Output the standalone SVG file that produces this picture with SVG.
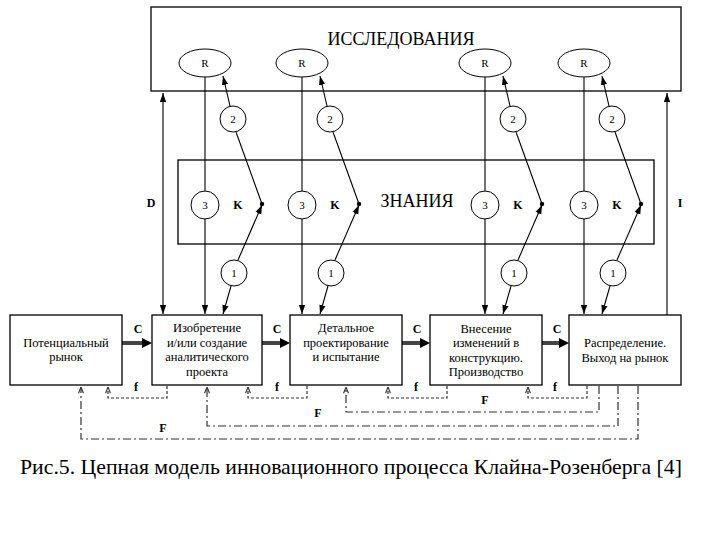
<svg xmlns="http://www.w3.org/2000/svg" width="720" height="540" viewBox="0 0 720 540">
<defs>
<marker id="ah" viewBox="0 0 10 10" refX="10" refY="5" markerWidth="9" markerHeight="9" markerUnits="userSpaceOnUse" orient="auto"><path d="M0,1.5 L10,5 L0,8.5 z" fill="#000"/></marker>
<marker id="oh" viewBox="0 0 10 10" refX="10" refY="5" markerWidth="7" markerHeight="7" markerUnits="userSpaceOnUse" orient="auto"><path d="M1,1.5 L10,5 L1,8.5" fill="none" stroke="#333" stroke-width="1.6"/></marker>
<style>
.bx{fill:#fff;stroke:#000;stroke-width:1.3}
.cr{fill:#fff;stroke:#000;stroke-width:1}
.ln{fill:none;stroke:#000;stroke-width:1.1}
text{font-family:'Liberation Serif','DejaVu Serif','Times New Roman',serif;fill:#000}
.t{text-anchor:middle}
.bt{font-size:12.5px}
.sm{font-size:11px}
.big{font-size:18px}
.k{font-size:12px;font-weight:bold}
.fd{fill:none;stroke:#333;stroke-width:1.2;stroke-dasharray:3,2}
.Fd{fill:none;stroke:#333;stroke-width:1.2;stroke-dasharray:8,3,2,3}
.ca{stroke:#444;stroke-width:4}
</style>
</defs>
<rect width="720" height="540" fill="#fff"/>

<g id="research">
<rect class="bx" x="151" y="7" width="530" height="84"/>
<text class="t big" x="401" y="45" font-family="Liberation Serif, DejaVu Serif, serif">ИССЛЕДОВАНИЯ</text>
</g>
<g id="knowledge">
<rect class="bx" x="178" y="160" width="476" height="84" fill="none"/>
<text class="t big" x="417" y="207" font-family="Liberation Serif, DejaVu Serif, serif">ЗНАНИЯ</text>
</g>

<g id="connectors">
<line class="ln" x1="163" y1="200" x2="163" y2="93" marker-end="url(#ah)"/>
<line class="ln" x1="163" y1="200" x2="163" y2="314" marker-end="url(#ah)"/>
<line class="ln" x1="667" y1="315" x2="667" y2="93" marker-end="url(#ah)"/>
<line class="ln" x1="205" y1="77" x2="205" y2="314" marker-end="url(#ah)"/>
<line class="ln" x1="302" y1="77" x2="302" y2="314" marker-end="url(#ah)"/>
<line class="ln" x1="485" y1="77" x2="485" y2="314" marker-end="url(#ah)"/>
<line class="ln" x1="584" y1="77" x2="584" y2="314" marker-end="url(#ah)"/>
<line class="ln" x1="230" y1="106" x2="223" y2="76" marker-end="url(#ah)"/>
<line class="ln" x1="236" y1="132" x2="262" y2="204"/>
<line class="ln" x1="238" y1="260" x2="262" y2="205" marker-end="url(#ah)"/>
<line class="ln" x1="231" y1="286" x2="223" y2="314" marker-end="url(#ah)"/>
<line class="ln" x1="327" y1="106" x2="320" y2="76" marker-end="url(#ah)"/>
<line class="ln" x1="333" y1="132" x2="359" y2="204"/>
<line class="ln" x1="335" y1="260" x2="359" y2="205" marker-end="url(#ah)"/>
<line class="ln" x1="328" y1="286" x2="320" y2="314" marker-end="url(#ah)"/>
<line class="ln" x1="510" y1="106" x2="503" y2="76" marker-end="url(#ah)"/>
<line class="ln" x1="516" y1="132" x2="542" y2="204"/>
<line class="ln" x1="518" y1="260" x2="542" y2="205" marker-end="url(#ah)"/>
<line class="ln" x1="511" y1="286" x2="503" y2="314" marker-end="url(#ah)"/>
<line class="ln" x1="609" y1="106" x2="602" y2="76" marker-end="url(#ah)"/>
<line class="ln" x1="615" y1="132" x2="641" y2="204"/>
<line class="ln" x1="617" y1="260" x2="641" y2="205" marker-end="url(#ah)"/>
<line class="ln" x1="610" y1="286" x2="602" y2="314" marker-end="url(#ah)"/>
<g fill="#000">
<circle cx="262" cy="204" r="2.2"/><circle cx="359" cy="204" r="2.2"/><circle cx="542" cy="204" r="2.2"/><circle cx="641" cy="204" r="2.2"/>
</g>
<line class="ca" x1="122" y1="343" x2="144" y2="343"/><polygon points="142,338 152,343 142,348"/>
<line class="ca" x1="262" y1="343" x2="282" y2="343"/><polygon points="280,338 290,343 280,348"/>
<line class="ca" x1="402" y1="343" x2="422" y2="343"/><polygon points="420,338 430,343 420,348"/>
<line class="ca" x1="542" y1="343" x2="561" y2="343"/><polygon points="559,338 569,343 559,348"/>
<polyline class="fd" points="167,386 167,398 108,398 108,387" marker-end="url(#oh)"/>
<polyline class="fd" points="307,386 307,398 248,398 248,387" marker-end="url(#oh)"/>
<polyline class="fd" points="447,386 447,398 388,398 388,387" marker-end="url(#oh)"/>
<polyline class="fd" points="587,386 587,398 528,398 528,387" marker-end="url(#oh)"/>
<polyline class="Fd" points="599,386 599,412 346,412 346,387" marker-end="url(#oh)"/>
<polyline class="Fd" points="618,386 618,426 207,426 207,387" marker-end="url(#oh)"/>
<polyline class="Fd" points="638,386 638,439 81,439 81,387" marker-end="url(#oh)"/>
</g>

<g id="R-nodes">
<ellipse class="cr" cx="205" cy="63" rx="26" ry="14"/><text class="t sm" x="205" y="67">R</text>
<ellipse class="cr" cx="302" cy="63" rx="26" ry="14"/><text class="t sm" x="302" y="67">R</text>
<ellipse class="cr" cx="485" cy="63" rx="26" ry="14"/><text class="t sm" x="485" y="67">R</text>
<ellipse class="cr" cx="584" cy="63" rx="26" ry="14"/><text class="t sm" x="584" y="67">R</text>
</g>
<g id="circles-2">
<circle class="cr" cx="233" cy="119" r="13"/><text class="t sm" x="233" y="123">2</text>
<circle class="cr" cx="330" cy="119" r="13"/><text class="t sm" x="330" y="123">2</text>
<circle class="cr" cx="513" cy="119" r="13"/><text class="t sm" x="513" y="123">2</text>
<circle class="cr" cx="612" cy="119" r="13"/><text class="t sm" x="612" y="123">2</text>
</g>
<g id="circles-3">
<circle class="cr" cx="205" cy="205" r="14"/><text class="t sm" x="205" y="209">3</text>
<circle class="cr" cx="302" cy="205" r="14"/><text class="t sm" x="302" y="209">3</text>
<circle class="cr" cx="485" cy="205" r="14"/><text class="t sm" x="485" y="209">3</text>
<circle class="cr" cx="584" cy="205" r="14"/><text class="t sm" x="584" y="209">3</text>
</g>
<g id="K-labels">
<text class="t k" x="238" y="209">K</text>
<text class="t k" x="335" y="209">K</text>
<text class="t k" x="518" y="209">K</text>
<text class="t k" x="617" y="209">K</text>
</g>
<g id="circles-1">
<circle class="cr" cx="234" cy="273" r="13"/><text class="t sm" x="234" y="277">1</text>
<circle class="cr" cx="331" cy="273" r="13"/><text class="t sm" x="331" y="277">1</text>
<circle class="cr" cx="514" cy="273" r="13"/><text class="t sm" x="514" y="277">1</text>
<circle class="cr" cx="613" cy="273" r="13"/><text class="t sm" x="613" y="277">1</text>
</g>

<g id="box-market">
<rect class="bx" x="10" y="315" width="112" height="70"/>
<text class="t bt" x="66" y="347">Потенциальный</text>
<text class="t bt" x="66" y="361">рынок</text>
</g>
<g id="box-invention">
<rect class="bx" x="152" y="315" width="110" height="70"/>
<text class="t bt" x="207" y="332">Изобретение</text>
<text class="t bt" x="207" y="347">и/или создание</text>
<text class="t bt" x="207" y="361">аналитического</text>
<text class="t bt" x="207" y="376">проекта</text>
</g>
<g id="box-design">
<rect class="bx" x="290" y="315" width="112" height="70"/>
<text class="t bt" x="346" y="332">Детальное</text>
<text class="t bt" x="346" y="347">проектирование</text>
<text class="t bt" x="346" y="361">и испытание</text>
</g>
<g id="box-production">
<rect class="bx" x="430" y="315" width="112" height="70"/>
<text class="t bt" x="486" y="333">Внесение</text>
<text class="t bt" x="486" y="347">изменений в</text>
<text class="t bt" x="486" y="362">конструкцию.</text>
<text class="t bt" x="486" y="376">Производство</text>
</g>
<g id="box-distribution">
<rect class="bx" x="569" y="315" width="112" height="70"/>
<text class="t bt" x="625" y="347">Распределение.</text>
<text class="t bt" x="625" y="362">Выход на рынок</text>
</g>

<g id="labels">
<text class="t k" x="151" y="207">D</text>
<text class="t k" x="680" y="207">I</text>
<text class="t k" x="138" y="333">C</text>
<text class="t k" x="277" y="333">C</text>
<text class="t k" x="417" y="333">C</text>
<text class="t k" x="557" y="333">C</text>
<text class="t k" x="136" y="391">f</text>
<text class="t k" x="277" y="391">f</text>
<text class="t k" x="416" y="391">f</text>
<text class="t k" x="555" y="391">f</text>
<text class="t k" x="485" y="404">F</text>
<text class="t k" x="318" y="417">F</text>
<text class="t k" x="163" y="432">F</text>
</g>

<text x="20" y="474" style="font-size:21px" textLength="662" lengthAdjust="spacingAndGlyphs">Рис.5. Цепная модель инновационного процесса Клайна-Розенберга [4]</text>
</svg>
